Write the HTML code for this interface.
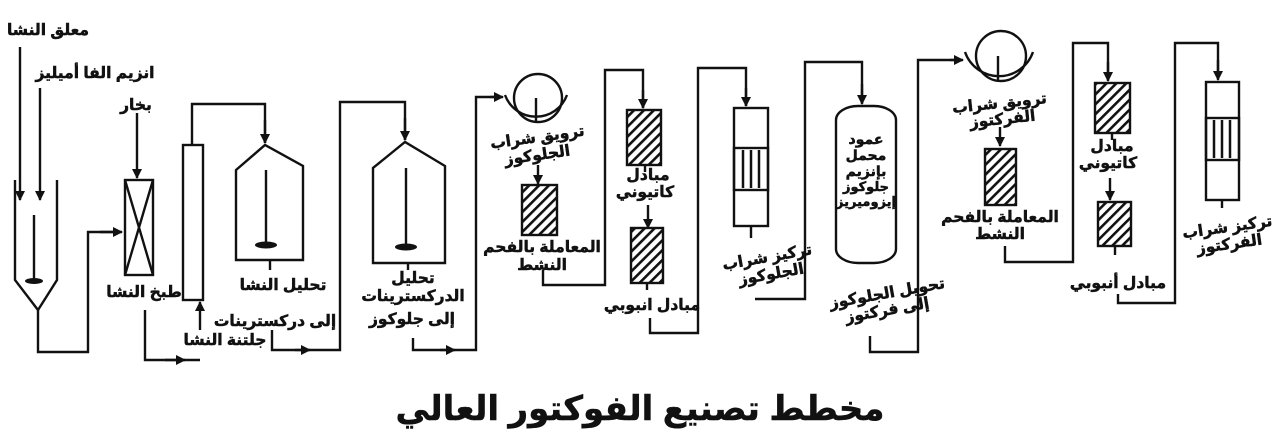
<!DOCTYPE html>
<html><head><meta charset="utf-8"><style>
html,body{margin:0;padding:0;background:#fff;}
svg{display:block;}
text{font-family:"Liberation Sans","Noto Sans CJK SC","DejaVu Sans",sans-serif;font-weight:bold;fill:#111;stroke:#111;stroke-width:0.5;direction:rtl;}
</style></head><body>
<svg width="1280" height="442" viewBox="0 0 1280 442" xmlns="http://www.w3.org/2000/svg">
<defs>
<marker id="a" viewBox="0 0 10 10" refX="9" refY="5" markerWidth="10" markerHeight="10" orient="auto" markerUnits="userSpaceOnUse"><path d="M0,0 L10,5 L0,10 z" fill="#111"/></marker>
<pattern id="h" patternUnits="userSpaceOnUse" width="7" height="7" patternTransform="rotate(45)"><rect width="7" height="7" fill="#fff"/><rect width="2.6" height="7" fill="#111"/></pattern>
</defs>
<g fill="none" stroke="#111" stroke-width="2.4">
<path d="M15,180 V280 L38,310 L57,280 V180"/>
<line x1="20" y1="47" x2="20" y2="200" marker-end="url(#a)"/>
<line x1="40" y1="88" x2="40" y2="200" marker-end="url(#a)"/>
<line x1="34" y1="215" x2="34" y2="280"/>
<path d="M38,310 V352 H88 V232 H120" />
<line x1="100" y1="232" x2="122" y2="232" marker-end="url(#a)"/>
<line x1="137" y1="113" x2="137" y2="178" marker-end="url(#a)"/>
<rect x="125" y="180" width="28" height="95"/>
<path d="M125,180 L153,275 M153,180 L125,275"/>
<path d="M145,310 V360 H200"/>
<line x1="165" y1="360" x2="185" y2="360" marker-end="url(#a)"/>
<rect x="183" y="145" width="20" height="155"/>
<line x1="200" y1="330" x2="200" y2="302" marker-end="url(#a)"/>
<path d="M192,145 V104 H265 V143"/>
<line x1="265" y1="120" x2="265" y2="143" marker-end="url(#a)"/>
<path d="M236,260 V170 L265,145 L303,166 V260 Z"/>
<line x1="266" y1="170" x2="266" y2="245"/>
<line x1="270" y1="260" x2="270" y2="270"/>
<path d="M272,330 V350 H340 V102 H405 V140"/>
<line x1="295" y1="350" x2="310" y2="350" marker-end="url(#a)"/>
<line x1="405" y1="118" x2="405" y2="140" marker-end="url(#a)"/>
<path d="M373,263 V168 L405,142 L445,166 V263 Z"/>
<line x1="406" y1="168" x2="406" y2="245"/>
<line x1="408" y1="263" x2="408" y2="270"/>
<path d="M413,338 V350 H476 V97 H500"/>
<line x1="440" y1="350" x2="455" y2="350" marker-end="url(#a)"/>
<line x1="490" y1="97" x2="503" y2="97" marker-end="url(#a)"/>
<circle cx="538" cy="98" r="24"/>
<line x1="536" y1="98" x2="536" y2="122"/>
<path d="M505,95 A33,33 0 0 0 567,95"/>
<line x1="538" y1="165" x2="538" y2="184" marker-end="url(#a)"/>
<rect x="522" y="185" width="35" height="50" fill="url(#h)"/>
<path d="M543,270 V285 H605 V70 H643 V108"/>
<line x1="643" y1="90" x2="643" y2="108" marker-end="url(#a)"/>
<rect x="627" y="110" width="34" height="55" fill="url(#h)"/>
<line x1="645" y1="165" x2="645" y2="172"/>
<line x1="648" y1="205" x2="648" y2="228" marker-end="url(#a)"/>
<rect x="631" y="228" width="32" height="55" fill="url(#h)"/>
<line x1="647" y1="283" x2="647" y2="290"/>
<path d="M650,318 V333 H698 V68 H746 V106"/>
<line x1="746" y1="88" x2="746" y2="106" marker-end="url(#a)"/>
<rect x="734" y="108" width="34" height="118"/>
<rect x="734" y="148" width="34" height="42"/>
<path d="M743,150 V188 M751,150 V188 M759,150 V188" stroke-width="2.5"/>
<line x1="751" y1="226" x2="751" y2="238"/>
<path d="M755,299 H805 V62 H862 V103"/>
<line x1="862" y1="84" x2="862" y2="104" marker-end="url(#a)"/>
<rect x="836" y="106" width="60" height="157" rx="22" ry="14"/>
<path d="M870,336 V352 H918 V60 H962"/>
<line x1="950" y1="60" x2="963" y2="60" marker-end="url(#a)"/>
<circle cx="1001" cy="56" r="25"/>
<line x1="998" y1="56" x2="998" y2="82"/>
<path d="M965,52 A36,36 0 0 0 1033,52"/>
<line x1="1000" y1="127" x2="1000" y2="146" marker-end="url(#a)"/>
<rect x="985" y="149" width="31" height="56" fill="url(#h)"/>
<path d="M1005,246 V262 H1073 V43 H1108 V80"/>
<line x1="1108" y1="62" x2="1108" y2="81" marker-end="url(#a)"/>
<rect x="1095" y="83" width="35" height="50" fill="url(#h)"/>
<line x1="1112" y1="133" x2="1112" y2="140"/>
<line x1="1110" y1="178" x2="1110" y2="200" marker-end="url(#a)"/>
<rect x="1098" y="202" width="33" height="44" fill="url(#h)"/>
<line x1="1115" y1="246" x2="1115" y2="255"/>
<path d="M1118,294 V303 H1175 V43 H1218 V78"/>
<line x1="1218" y1="60" x2="1218" y2="80" marker-end="url(#a)"/>
<rect x="1206" y="82" width="33" height="118"/>
<rect x="1206" y="118" width="33" height="42"/>
<path d="M1214,120 V158 M1222,120 V158 M1230,120 V158" stroke-width="2.5"/>
<line x1="1222" y1="200" x2="1222" y2="208"/>
</g>
<g fill="#111">
<ellipse cx="34" cy="281" rx="9" ry="3"/>
<ellipse cx="266" cy="245" rx="11" ry="3.5"/>
<ellipse cx="406" cy="247" rx="11" ry="3.5"/>
</g>
<g text-anchor="middle" font-size="15.5">
<text x="48" y="35">معلق النشا</text>
<text x="95" y="78">انزيم الفا أميليز</text>
<text x="136" y="110">بخار</text>
<text x="144" y="297">طبخ النشا</text>
<text x="225" y="345">جلتنة النشا</text>
<text x="283" y="290">تحليل النشا</text>
<text x="275" y="326">إلى دركسترينات</text>
<text x="413" y="283">تحليل</text>
<text x="413" y="301">الدركسترينات</text>
<text x="412" y="324">إلى جلوكوز</text>
<text x="538" y="142" transform="rotate(-8 538 142)">ترويق شراب</text>
<text x="538" y="160" transform="rotate(-8 538 160)">الجلوكوز</text>
<text x="542" y="252">المعاملة بالفحم</text>
<text x="542" y="270">النشط</text>
<text x="648" y="180">مبادل</text>
<text x="645" y="197">كاتيوني</text>
<text x="652" y="310">مبادل انبوبي</text>
<text x="768" y="262" transform="rotate(-10 768 262)">تركيز شراب</text>
<text x="772" y="279" transform="rotate(-10 772 279)">الجلوكوز</text>
<text x="866" y="144" font-size="14">عمود</text>
<text x="866" y="160" font-size="14">محمل</text>
<text x="866" y="176" font-size="14">بإنزيم</text>
<text x="866" y="191" font-size="13">جلوكوز</text>
<text x="866" y="206" font-size="13">إيزوميريز</text>
<text x="888" y="298" transform="rotate(-10 888 298)">تحويل الجلوكوز</text>
<text x="888" y="315" transform="rotate(-10 888 315)">إلى فركتوز</text>
<text x="1000" y="108" transform="rotate(-6 1000 108)">ترويق شراب</text>
<text x="1003" y="124" transform="rotate(-6 1003 124)">الفركتوز</text>
<text x="1000" y="222">المعاملة بالفحم</text>
<text x="1000" y="239">النشط</text>
<text x="1112" y="151">مبادل</text>
<text x="1108" y="168">كاتيوني</text>
<text x="1118" y="288">مبادل أنبوبي</text>
<text x="1228" y="232" transform="rotate(-8 1228 232)">تركيز شراب</text>
<text x="1230" y="249" transform="rotate(-8 1230 249)">الفركتوز</text>
<text x="640" y="420" font-size="34" stroke-width="1">مخطط تصنيع الفوكتور العالي</text>
</g>
</svg>
</body></html>
